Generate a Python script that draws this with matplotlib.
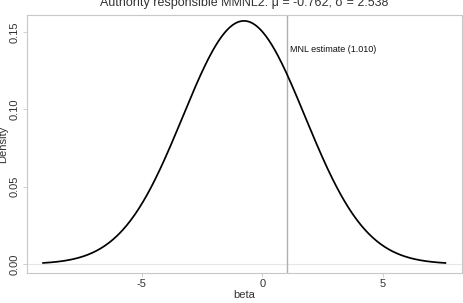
import numpy as np
import matplotlib
matplotlib.use("Agg")
import matplotlib.pyplot as plt

plt.rcParams['font.family'] = ['Liberation Sans', 'DejaVu Sans']

mu = -0.762
sigma = 2.538
mnl_estimate = 1.010
x_range = [-9.1, 7.6]
title = "Authority responsible MMNL2: \u03bc = -0.762, \u03c3 = 2.538"
xticks = [-5, 0, 5]
yticks = [0.00, 0.05, 0.10, 0.15]

x = np.linspace(x_range[0], x_range[1], 400)
dens = np.exp(-0.5 * ((x - mu) / sigma) ** 2) / (sigma * np.sqrt(2 * np.pi))

W, H = 463, 303
fig = plt.figure(figsize=(W / 100, H / 100), dpi=100)
ax = fig.add_axes([26.7 / W, 1 - 273 / H, (462 - 26.7) / W, (273 - 15) / H])

ax.axhline(0, color='#e6e6e6', lw=0.8, zorder=1)
ax.axvline(mnl_estimate, color='#b0b0b0', lw=1.0, zorder=2)
ax.plot(x, dens, color='black', lw=1.25, zorder=3)
ax.text(1.15, 0.1385, f"MNL estimate ({mnl_estimate:.3f})", fontsize=6.5,
        ha='left', va='center', color='#111111')

ax.set_xlim(-9.78, 8.29)
ax.set_ylim(-0.0058, 0.161)
ax.set_xticks(xticks)
ax.set_xticklabels(["-5", "0", "5"])
ax.set_yticks(yticks)
ax.set_yticklabels([f"{v:.2f}" for v in yticks], rotation=90, va='center')
for s in ax.spines.values():
    s.set_color('#c8c8c8')
    s.set_linewidth(0.8)
ax.tick_params(axis='both', colors='#c8c8c8', labelcolor='#333333',
               labelsize=8, length=3, width=0.6)
ax.tick_params(axis='y', pad=2)
ax.tick_params(axis='x', pad=1.5)
ax.set_xlabel("beta", fontsize=8, color='#333333', labelpad=0.5)
fig.text(3 / W, 1 - 144 / H, "Density", rotation=90, fontsize=8,
         color='#333333', ha='center', va='center')
fig.text(244 / W, 1 - 3 / H, title, fontsize=9, color='#333333',
         ha='center', va='center')

fig.savefig("out.png", dpi=100)
